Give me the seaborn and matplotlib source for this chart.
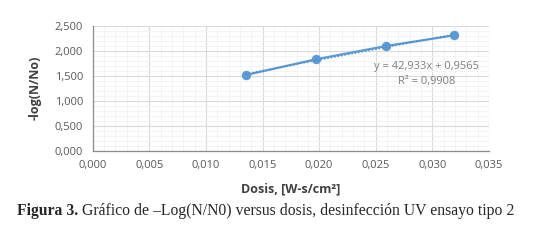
import matplotlib
matplotlib.use("Agg")
import matplotlib.pyplot as plt
import matplotlib.ticker as mticker
import seaborn as sns
import numpy as np
import pandas as pd

dose = [0.0135, 0.0197, 0.0259, 0.0319]
neg_log = [1.514, 1.828, 2.094, 2.308]
slope = 42.933
intercept = 0.9565
r2 = 0.9908

x_ticks = [0.000, 0.005, 0.010, 0.015, 0.020, 0.025, 0.030, 0.035]
y_ticks = [0.0, 0.5, 1.0, 1.5, 2.0, 2.5]

sns.set_style("white")
plt.rcParams['font.family'] = ['Open Sans', 'DejaVu Sans']

fig = plt.figure(figsize=(5.59, 2.5), dpi=100)
ax = fig.add_axes([0.1658, 0.397, 0.709, 0.5])

df = pd.DataFrame({"dose": dose, "val": neg_log})
blue = "#5B9BD5"
sns.lineplot(data=df, x="dose", y="val", ax=ax, color=blue, marker="o",
             markersize=6, markeredgecolor=blue, linewidth=1.6)

xt = np.array([min(dose), max(dose)])
ax.plot(xt, slope * xt + intercept, linestyle=(0, (1, 1.5)), color="#4A88C7", linewidth=1.0)

ax.set_xlim(0, 0.035)
ax.set_ylim(0, 2.5)
ax.set_xticks(x_ticks)
ax.set_yticks(y_ticks)
ax.xaxis.set_minor_locator(mticker.MultipleLocator(0.001))
ax.yaxis.set_minor_locator(mticker.MultipleLocator(0.1))
fmt = mticker.FuncFormatter(lambda v, p: f"{v:.3f}".replace(".", ","))
ax.xaxis.set_major_formatter(fmt)
ax.yaxis.set_major_formatter(fmt)

ax.grid(True, which="major", color="#DADADA", linewidth=0.8)
ax.grid(True, which="minor", color="#F3F3F3", linewidth=0.6)
ax.set_axisbelow(True)

for s in ["top", "right"]:
    ax.spines[s].set_visible(False)
for s in ["left", "bottom"]:
    ax.spines[s].set_color("#8C8C8C")
    ax.spines[s].set_linewidth(0.9)

ax.tick_params(axis="both", which="major", direction="out", length=4, width=0.8,
               color="#8C8C8C", labelsize=8, labelcolor="#595959", pad=3)
ax.tick_params(axis="both", which="minor", length=0)

ax.set_xlabel("Dosis, [W-s/cm²]", fontsize=9, fontweight="bold", color="#404040", labelpad=8)
ax.set_ylabel("-log(N/No)", fontsize=9, fontweight="bold", color="#404040", labelpad=9)

ax.text(0.0295, 1.54, "y = 42,933x + 0,9565\nR² = 0,9908", ha="center", va="center",
        fontsize=8, color="#7F7F7F", linespacing=1.45)

t1 = fig.text(0.03, 0.155, "Figura 3.", fontsize=11.3, fontweight="bold",
              family="Liberation Serif", va="center", ha="left")
fig.canvas.draw()
bb = t1.get_window_extent(renderer=fig.canvas.get_renderer())
x2 = bb.x1 / fig.bbox.width
fig.text(x2, 0.155, " Gráfico de \u2013Log(N/N0) versus dosis, desinfección UV ensayo tipo 2",
         fontsize=11.3, family="Liberation Serif", va="center", ha="left")

fig.savefig("out.png", dpi=100)
